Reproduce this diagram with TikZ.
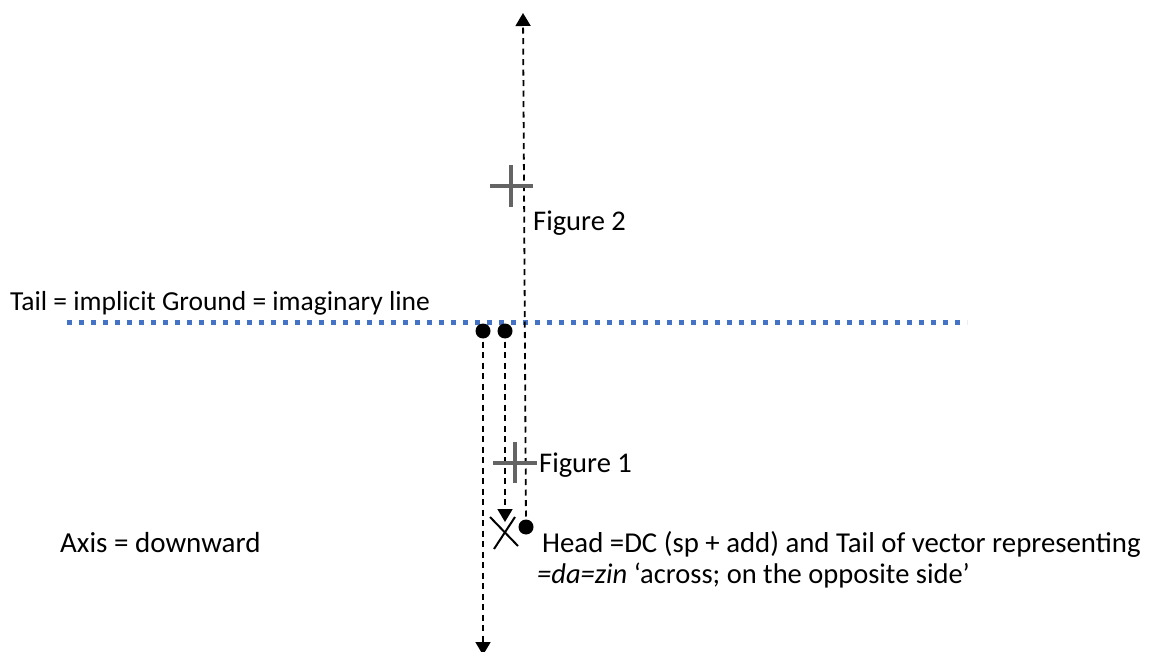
\documentclass[tikz,border=0pt]{standalone}
\usepackage{fontspec}
\setmainfont{Carlito}
\usetikzlibrary{arrows.meta}
\definecolor{gblue}{RGB}{68,114,196}
\definecolor{cgray}{RGB}{100,100,100}
\begin{document}
\begin{tikzpicture}[x=1pt,y=-1pt,
  lbl/.style={anchor=base west,inner sep=0pt,font=\fontsize{28.5}{34}\selectfont},
  dot/.style={circle,fill=black,inner sep=0pt,minimum size=15pt},
  vec/.style={draw=black,line width=1.8pt,dash pattern=on 6pt off 4.5pt,-{Triangle[width=15pt,length=13pt]}},
  crossmark/.style={draw=cgray,line width=4pt},
  xmark/.style={draw=black,line width=2pt},
  ground/.style={draw=gblue,line width=5pt,dash pattern=on 5pt off 7pt}]
\useasboundingbox (0,0) rectangle (1159,652);
% ground line
\coordinate (g1) at (67,322);
\coordinate (g2) at (967,322);
\draw[ground] (g1) -- (g2);
% dots
\node[dot] (d1) at (483,331) {};
\node[dot] (d2) at (505,331) {};
\node[dot] (d3) at (526,527) {};
% arrow ends
\coordinate (e1) at (483,655);
\coordinate (e2) at (505,522);
\coordinate (e3) at (523,13);
\draw[vec] (d1.center) -- (e1);
\draw[vec] (d2.center) -- (e2);
\draw[vec] (d3.center) -- (e3);
% X mark
\coordinate (x1) at (490,517);
\coordinate (x2) at (518,546);
\coordinate (x3) at (515,517);
\coordinate (x4) at (494,549);
\draw[xmark] (x1) -- (x2);
\draw[xmark] (x3) -- (x4);
% crosses
\coordinate (f2) at (511,186);
\draw[crossmark] ([xshift=-21pt]f2) -- ([xshift=22pt]f2);
\draw[crossmark] ([yshift=-21pt]f2) -- ([yshift=21pt]f2);
\coordinate (f1) at (515,463);
\draw[crossmark] ([xshift=-22pt]f1) -- ([xshift=22pt]f1);
\draw[crossmark] ([yshift=-20pt]f1) -- ([yshift=21pt]f1);
% labels
\node[lbl,font=\fontsize{27.5}{33}\selectfont] (tail) at (10,311) {Tail = implicit Ground = imaginary line};
\node[lbl] (fig2) at (533,231) {Figure 2};
\node[lbl] (fig1) at (539,472) {Figure 1};
\node[lbl,font=\fontsize{29}{34}\selectfont] (axis) at (60,552) {Axis = downward};
\node[lbl,font=\fontsize{28.8}{34}\selectfont] (head) at (542,552) {Head =DC (sp + add) and Tail of vector representing};
\node[lbl] (head2) at (537,583) {\textit{=da=zin} ‘across; on the opposite side’};
\end{tikzpicture}
\end{document}
